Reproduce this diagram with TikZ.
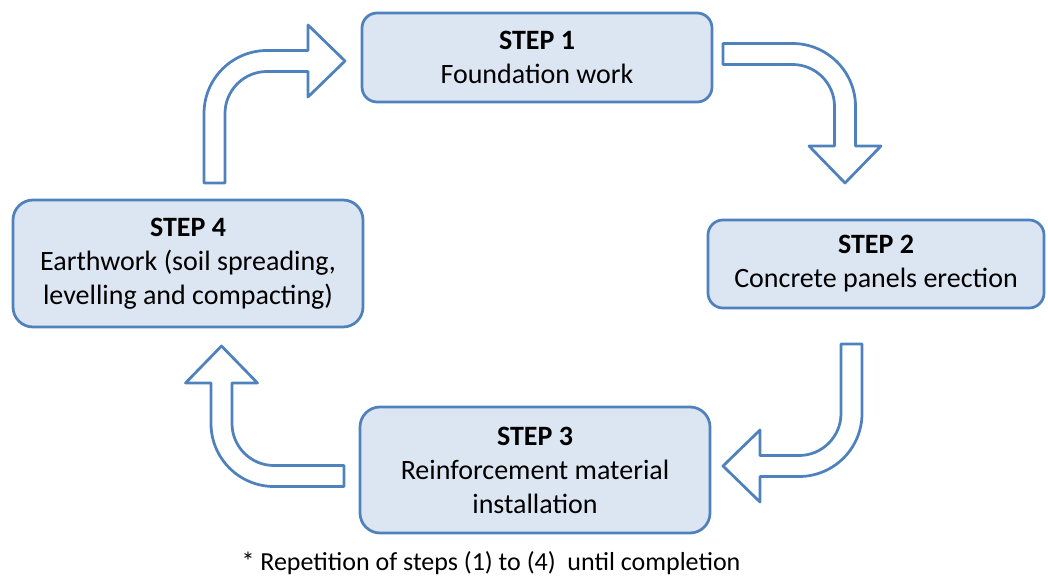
\documentclass[tikz,border=0pt]{standalone}
\usepackage{fontspec}
\setmainfont{Carlito}
\definecolor{edgeblue}{HTML}{4F81BD}
\definecolor{boxfill}{HTML}{DCE6F2}
\tikzset{
  stepbox/.style={draw=edgeblue, fill=boxfill, line width=2.75pt, align=center, inner sep=0pt},
  pics/bentarrow/.style 2 args={code={
    \draw[draw=edgeblue, fill=white, line width=2.75pt, line join=round]
      (-10.5,0) -- (-10.5,#1+10.5-63) arc[start angle=180, end angle=90, radius=63]
      -- (#2-37,#1+10.5) -- (#2-37,#1+36) -- (#2,#1) -- (#2-37,#1-36) -- (#2-37,#1-10.5)
      -- (52.5,#1-10.5) arc[start angle=90, end angle=180, radius=42]
      -- (10.5,0) -- cycle;
  }}
}
\begin{document}
\begin{tikzpicture}[
  x=1pt, y=1pt,
  font=\fontsize{28}{34}\selectfont
]
\useasboundingbox (0,0) rectangle (1048,579);

% Step boxes
\node[stepbox, rounded corners=15pt, minimum width=350pt, minimum height=89pt] (s1) at (537,521.5) {\textbf{STEP 1}\\Foundation work};
\node[stepbox, rounded corners=15pt, minimum width=336pt, minimum height=88pt] (s2) at (876,315) {\textbf{STEP 2}\\Concrete panels erection};
\node[stepbox, rounded corners=20pt, minimum width=350pt, minimum height=126pt] (s3) at (535,109) {\textbf{STEP 3}\\Reinforcement material\\installation};
\node[stepbox, rounded corners=20pt, minimum width=350pt, minimum height=127pt] (s4) at (188,315.5) {\textbf{STEP 4}\\Earthwork (soil spreading,\\levelling and compacting)};

% Arrow tails
\coordinate (a41) at (214.5,396);
\coordinate (a12) at (723,525);
\coordinate (a23) at (851.5,235);
\coordinate (a34) at (344,103);

% Bent arrows
\pic at (a41) {bentarrow={122}{130.5}};
\pic[rotate=-90] at (a12) {bentarrow={122}{129}};
\pic[rotate=180] at (a23) {bentarrow={122}{128.5}};
\pic[rotate=90] at (a34) {bentarrow={122.5}{130}};

% Footnote
\node[anchor=base, font=\fontsize{26}{30}\selectfont] (note) at (491,9) {* Repetition of steps (1) to (4)~ until completion};
\end{tikzpicture}
\end{document}
